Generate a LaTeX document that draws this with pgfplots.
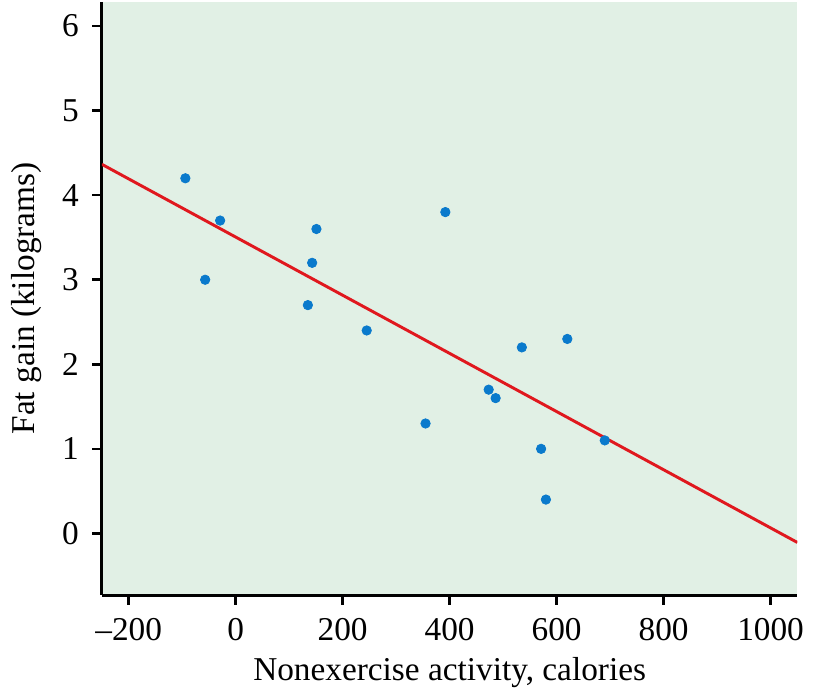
\documentclass[border=0pt]{standalone}
\usepackage{pgfplots}
\pgfplotsset{compat=1.18}
\usepackage{fontspec}
\setmainfont{Liberation Serif}
\definecolor{bgc}{HTML}{E1F0E5}
\definecolor{ptc}{HTML}{0A7ACC}
\definecolor{lnc}{HTML}{E0181E}
\begin{document}
\begin{tikzpicture}
\fontsize{17}{20}\selectfont
\begin{axis}[
  scale only axis,
  width=355pt, height=303pt,
  xmin=-250, xmax=1050, ymin=-0.73, ymax=6.29,
  axis lines=left,
  axis line style={line width=1.6pt, -},
  axis background/.style={fill=bgc},
  xtick={-200,0,200,400,600,800,1000},
  xticklabels={–200,0,200,400,600,800,1000},
  ytick={0,1,2,3,4,5,6},
  yticklabels={0,1,2,3,4,5,6},
  tick style={line width=1.3pt, black},
  tick align=outside,
  major tick length=5pt,
  xticklabel style={yshift=-1pt},
  yticklabel style={xshift=-1pt},
  xlabel={Nonexercise activity, calories},
  ylabel={Fat gain (kilograms)},
  xlabel style={yshift=3pt},
  ylabel style={yshift=-1pt},
  clip=true,
]
\addplot[lnc, line width=1.5pt, no markers] coordinates {(-250,4.365) (1050,-0.107)};
\addplot[only marks, mark=*, mark size=2.4pt, ptc, mark options={draw=ptc, fill=ptc}] coordinates {
(-94,4.2) (-57,3.0) (-29,3.7) (135,2.7) (143,3.2) (151,3.6) (245,2.4) (355,1.3)
(392,3.8) (473,1.7) (486,1.6) (535,2.2) (571,1.0) (580,0.4) (620,2.3) (690,1.1)};
\end{axis}
\end{tikzpicture}
\end{document}
